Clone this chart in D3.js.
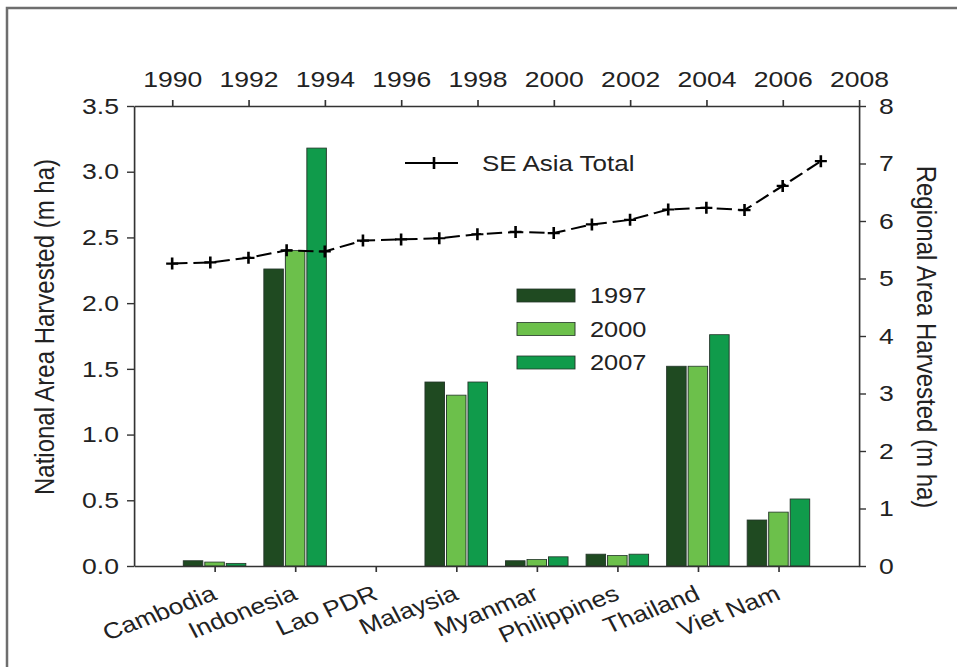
<!DOCTYPE html>
<html>
<head>
<meta charset="utf-8">
<script src="https://cdn.jsdelivr.net/npm/d3@7"></script>
<style>
  body { margin: 0; background: #fff; }
  svg { font-family: "Liberation Sans", Arial, sans-serif; }
  .axis text { font-size: 22.5px; fill: #222; }
  .axis path, .axis line { stroke: #333; stroke-width: 1.4; }
</style>
</head>
<body>
<div id="chart"></div>
<script>
// countries and the national harvested area (m ha) per survey year
var countries = ["Cambodia", "Indonesia", "Lao PDR", "Malaysia", "Myanmar", "Philippines", "Thailand", "Viet Nam"];
var barYears = ["1997", "2000", "2007"];
var area1997 = [0.04, 2.26, 0, 1.40, 0.04, 0.09, 1.52, 0.35];
var area2000 = [0.03, 2.40, 0, 1.30, 0.05, 0.08, 1.52, 0.41];
var area2007 = [0.02, 3.18, 0, 1.40, 0.07, 0.09, 1.76, 0.51];
var barColors = ["#1f4a21", "#6cc04b", "#109b4b"];

// regional total (m ha), right axis
var totalYears = [1990, 1991, 1992, 1993, 1994, 1995, 1996, 1997, 1998, 1999, 2000, 2001, 2002, 2003, 2004, 2005, 2006, 2007];
var totalArea  = [5.26, 5.28, 5.36, 5.49, 5.47, 5.66, 5.68, 5.70, 5.77, 5.81, 5.79, 5.94, 6.02, 6.20, 6.23, 6.19, 6.61, 7.04];

var topTicks = [1990, 1992, 1994, 1996, 1998, 2000, 2002, 2004, 2006, 2008];
var leftTicks = [0, 0.5, 1.0, 1.5, 2.0, 2.5, 3.0, 3.5];
var rightTicks = [0, 1, 2, 3, 4, 5, 6, 7, 8];

var width = 957, height = 667;
// the original figure is stretched sideways, so everything is drawn
// in a narrower space and scaled by SX
var SX = 1.18;
var X = px => px / SX;
var plotL = 134, plotR = 859, plotT = 106, plotB = 566;

var svg = d3.select("#chart").append("svg")
    .attr("width", width)
    .attr("height", height);

// grey frame round the figure
svg.append("rect")
    .attr("x", 7).attr("y", 8)
    .attr("width", 1000).attr("height", 1000)
    .attr("fill", "none")
    .attr("stroke", "#6e6e6e")
    .attr("stroke-width", 2.5);

var g = svg.append("g").attr("transform", "scale(" + SX + ",1)");

var xCat = d3.scaleLinear().domain([0, countries.length + 1]).range([X(plotL), X(plotR)]);
var xYear = d3.scaleLinear().domain([1989, 2008]).range([X(plotL), X(plotR)]);
var yL = d3.scaleLinear().domain([0, 3.5]).range([plotB, plotT]);
var yR = d3.scaleLinear().domain([0, 8]).range([plotB, plotT]);

// bars
var series = [area1997, area2000, area2007];
var barW = X(19.5), step = X(21.5);
series.forEach(function(vals, s) {
    g.selectAll(".bar" + s)
        .data(vals)
        .enter().append("rect")
        .attr("class", "bar" + s)
        .attr("x", (d, i) => xCat(i + 1) + (s - 1) * step - barW / 2)
        .attr("y", d => yL(d))
        .attr("width", barW)
        .attr("height", d => yL(0) - yL(d))
        .attr("fill", barColors[s])
        .attr("stroke", d => d > 0 ? "#24362a" : "none")
        .attr("stroke-width", 0.8);
});

// axes
g.append("g").attr("class", "axis")
    .attr("transform", "translate(" + X(plotL) + ",0)")
    .call(d3.axisLeft(yL).tickValues(leftTicks).tickFormat(d3.format(".1f"))
        .tickSize(X(7)).tickSizeOuter(0).tickPadding(X(8)));

g.append("g").attr("class", "axis")
    .attr("transform", "translate(" + X(plotR) + ",0)")
    .call(d3.axisRight(yR).tickValues(rightTicks).tickFormat(d3.format("d"))
        .tickSize(X(7)).tickSizeOuter(0).tickPadding(X(13)));

g.append("g").attr("class", "axis")
    .attr("transform", "translate(0," + plotT + ")")
    .call(d3.axisTop(xYear).tickValues(topTicks).tickFormat(d3.format("d"))
        .tickSize(6).tickSizeOuter(0).tickPadding(13));

var axB = g.append("g").attr("class", "axis")
    .attr("transform", "translate(0," + plotB + ")")
    .call(d3.axisBottom(xCat).tickValues(d3.range(1, countries.length + 1))
        .tickFormat(i => countries[i - 1]).tickSize(6).tickSizeOuter(0));

axB.selectAll("text")
    .attr("text-anchor", "end")
    .attr("dy", null)
    .attr("y", 0)
    .attr("transform", "translate(" + X(3) + ",33) rotate(-24)");

// regional total line
var line = d3.line().x(d => xYear(d[0])).y(d => yR(d[1]));
var pts = totalYears.map((y, i) => [y, totalArea[i]]);
g.append("path")
    .datum(pts)
    .attr("d", line)
    .attr("fill", "none")
    .attr("stroke", "#000")
    .attr("stroke-width", 2)
    .attr("stroke-dasharray", "13,5");

function drawPlus(sel, x, y) {
    sel.append("path")
        .attr("d", "M" + (x - X(6)) + "," + y + "H" + (x + X(6)) + "M" + x + "," + (y - 6) + "V" + (y + 6))
        .attr("stroke", "#000")
        .attr("stroke-width", 2.2);
}
var marks = g.append("g");
pts.forEach(d => drawPlus(marks, xYear(d[0]), yR(d[1])));

// axis titles
g.append("text")
    .attr("transform", "translate(" + X(54) + ",327) rotate(-90)")
    .attr("text-anchor", "middle")
    .style("font-size", "24px")
    .attr("fill", "#222")
    .text("National Area Harvested (m ha)");

g.append("text")
    .attr("transform", "translate(" + X(917) + ",337) rotate(90)")
    .attr("text-anchor", "middle")
    .style("font-size", "24px")
    .attr("fill", "#222")
    .text("Regional Area Harvested (m ha)");

// line legend
var lg = g.append("g");
lg.append("line")
    .attr("x1", X(405)).attr("x2", X(458)).attr("y1", 163).attr("y2", 163)
    .attr("stroke", "#000").attr("stroke-width", 2);
drawPlus(lg, X(434), 163);
lg.append("text")
    .attr("x", X(482)).attr("y", 163).attr("dy", "0.36em")
    .style("font-size", "22px").attr("fill", "#222")
    .text("SE Asia Total");

// bar legend
barYears.forEach(function(yr, s) {
    var yy = 289 + s * 33.5;
    g.append("rect")
        .attr("x", X(517)).attr("y", yy)
        .attr("width", X(58)).attr("height", 13)
        .attr("fill", barColors[s])
        .attr("stroke", "#24362a").attr("stroke-width", 0.8);
    g.append("text")
        .attr("x", X(590)).attr("y", yy + 6.5).attr("dy", "0.36em")
        .style("font-size", "21.5px").attr("fill", "#222")
        .text(yr);
});
</script>
</body>
</html>
